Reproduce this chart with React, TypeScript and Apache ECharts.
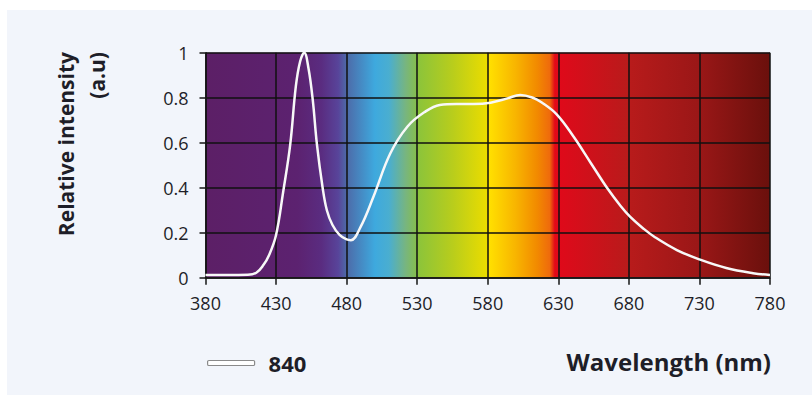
import React, { useEffect, useRef } from 'react';
import * as echarts from 'echarts';

const wavelengths = [380, 395, 410, 416, 421, 425, 430, 435, 440, 444, 447, 450, 453, 456, 459, 463, 466, 470, 475, 480, 483, 490, 499, 511, 523, 535, 546, 558, 570, 582, 594, 603, 612, 618, 629, 641, 653, 665, 674, 681, 690, 698, 714, 731, 749, 768, 780];
const intensity = [0.012, 0.012, 0.013, 0.022, 0.056, 0.1, 0.19, 0.38, 0.59, 0.85, 0.96, 1.0, 0.93, 0.79, 0.59, 0.4, 0.3, 0.234, 0.19, 0.17, 0.167, 0.227, 0.36, 0.553, 0.671, 0.735, 0.768, 0.772, 0.772, 0.778, 0.797, 0.812, 0.8, 0.78, 0.725, 0.625, 0.51, 0.395, 0.32, 0.27, 0.22, 0.182, 0.123, 0.079, 0.043, 0.02, 0.012];

const seriesName = '840';
const xTicks = [380, 780, 50];
const yTicks = [0, 1, 0.2];

const spectrumNm = [380, 445, 462, 474, 480, 500, 510, 522, 530, 531, 555, 579, 581, 600, 615, 624, 627.5, 630, 680, 730, 780];
const spectrumColors = ['#5c1f66', '#5c2270', '#5a2c80', '#58449a', '#4d6aa8', '#3ea9de', '#4aaed0', '#78b57e', '#86bf4a', '#8cc43a', '#b8cd1c', '#eadc00', '#ffe000', '#f8b400', '#f28a00', '#ef6a0c', '#e30818', '#e0091a', '#b81b1b', '#9a1717', '#6a100c'];

export default function App() {
  const ref = useRef<HTMLDivElement>(null);
  useEffect(() => {
    const chart = echarts.init(ref.current!, undefined, { renderer: 'svg' });
    const stops = spectrumNm.map((nm, i) => ({ offset: (nm - 380) / 400, color: spectrumColors[i] }));
    const data = wavelengths.map((w, i) => [w, intensity[i]]);
    const font = '"Open Sans", Lato, sans-serif';
    const ink = '#1e1e28';
    chart.setOption({
      animation: false,
      backgroundColor: '#ffffff',
      graphic: [
        { type: 'rect', z: -100, shape: { x: 7, y: 10, width: 805, height: 385 }, style: { fill: '#f2f5fb' } },
        {
          type: 'text', x: 66, y: 52, rotation: Math.PI / 2,
          style: { text: 'Relative intensity', fontFamily: font, fontWeight: 'bold', fontSize: 21, fill: ink, align: 'right', verticalAlign: 'middle' },
        },
        {
          type: 'text', x: 97, y: 52, rotation: Math.PI / 2,
          style: { text: '(a.u)', fontFamily: font, fontWeight: 'bold', fontSize: 21, fill: ink, align: 'right', verticalAlign: 'middle' },
        },
        {
          type: 'text', x: 771, y: 361,
          style: { text: 'Wavelength (nm)', fontFamily: font, fontWeight: 'bold', fontSize: 24, fill: ink, align: 'right', verticalAlign: 'middle' },
        },
      ],
      legend: {
        left: 202,
        top: 347,
        icon: 'roundRect',
        itemWidth: 47,
        itemHeight: 5,
        data: [seriesName],
        itemStyle: { color: '#ffffff', borderColor: '#8a8a8a', borderWidth: 1.2 },
        textStyle: { fontFamily: font, fontWeight: 'bold', fontSize: 22, color: ink, padding: [0, 0, 0, 9] },
      },
      grid: {
        left: 205.5,
        right: 42,
        top: 52.7,
        bottom: 117.3,
        show: true,
        borderWidth: 0,
        backgroundColor: new echarts.graphic.LinearGradient(0, 0, 1, 0, stops),
      },
      xAxis: {
        type: 'value',
        min: xTicks[0],
        max: xTicks[1],
        interval: xTicks[2],
        axisLine: { show: true, lineStyle: { color: '#151515', width: 1.5 } },
        axisTick: { show: true, length: 7, lineStyle: { color: '#151515', width: 1.5 } },
        axisLabel: { fontFamily: font, fontSize: 18, color: ink, margin: 16 },
        splitLine: { show: true, lineStyle: { color: '#111111', width: 1.5 } },
      },
      yAxis: {
        type: 'value',
        min: yTicks[0],
        max: yTicks[1],
        interval: yTicks[2],
        axisLine: { show: true, lineStyle: { color: '#151515', width: 1.5 } },
        axisTick: { show: true, length: 6, lineStyle: { color: '#151515', width: 1.5 } },
        axisLabel: { fontFamily: font, fontSize: 18, color: ink, margin: 17 },
        splitLine: { show: true, lineStyle: { color: '#111111', width: 1.5 } },
      },
      series: [
        {
          name: seriesName,
          type: 'line',
          data,
          smooth: 0.4,
          showSymbol: false,
          symbol: 'none',
          lineStyle: { color: '#f8f8f8', width: 2.5 },
          itemStyle: { color: '#ffffff', borderColor: '#8a8a8a' },
        },
      ],
    });
    return () => chart.dispose();
  }, []);
  return <div ref={ref} style={{ position: 'absolute', left: 0, top: 0, width: 812, height: 395 }} />;
}
